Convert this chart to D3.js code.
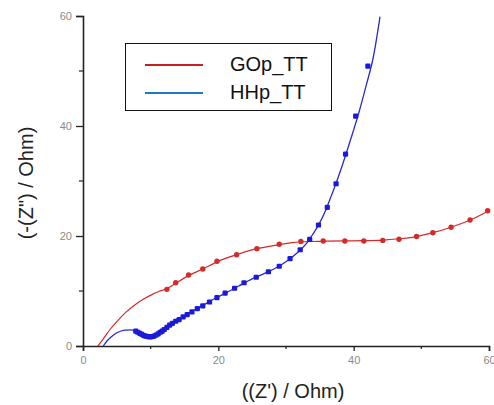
<!DOCTYPE html>
<html>
<head>
<meta charset="utf-8">
<script src="https://cdn.jsdelivr.net/npm/d3@7"></script>
<style>
  html, body { margin: 0; padding: 0; background: #fff; }
  svg { display: block; }
</style>
</head>
<body>
<svg id="chart" width="494" height="405"></svg>
<script>
// Nyquist plot: real impedance vs. negative imaginary impedance
const seriesNames = ["GOp_TT", "HHp_TT"];
const seriesColors = ["#d42a2a", "#2a2ad0"];
const legendColors = ["#c81e1e", "#1e78c8"];

const xTicks = [0, 20, 40, 60];
const yTicks = [0, 20, 40, 60];
const xMinor = [10, 30, 50];
const yMinor = [10, 30, 50];

// GOp_TT fitted curve [Z', -Z'']
const gopFit = [
  [2.2, 0], [3.0, 1.3], [4.0, 3.0], [5.2, 4.7], [6.4, 6.2], [7.7, 7.5], [8.9, 8.5],
  [10.1, 9.3], [11.2, 9.9], [12.4, 10.4], [13.7, 11.4], [15.6, 12.8], [17.7, 14.0],
  [19.8, 15.3], [22.7, 16.6], [25.7, 17.7], [28.4, 18.3], [31.0, 18.8], [33.5, 19.0],
  [35.5, 19.05], [38.7, 19.1], [41.5, 19.15], [44.3, 19.25], [46.7, 19.5], [49.3, 19.9],
  [51.7, 20.6], [54.4, 21.6], [57.2, 22.9], [60.0, 24.6]
];
// GOp_TT measured points
const gopPts = [
  [12.4, 10.3], [13.7, 11.5], [15.6, 12.9], [17.7, 14.0], [19.8, 15.4], [22.7, 16.6],
  [25.7, 17.7], [29.0, 18.5], [32.2, 19.0], [35.5, 19.1], [38.7, 19.1], [41.5, 19.1],
  [44.3, 19.2], [46.7, 19.4], [49.3, 19.9], [51.7, 20.6], [54.4, 21.6], [57.2, 22.9],
  [59.8, 24.6]
];

// HHp_TT fitted curve
const hhpFit = [
  [3.0, 0], [3.6, 1.0], [4.2, 1.7], [5.0, 2.4], [6.2, 2.9], [7.0, 2.95], [7.7, 2.8],
  [8.3, 2.5], [8.9, 2.1], [9.5, 1.8], [10.1, 1.7], [10.8, 2.0], [11.6, 2.6], [12.4, 3.5],
  [13.3, 4.3], [14.6, 5.2], [16.0, 6.2], [17.6, 7.3], [19.4, 8.6], [21.2, 9.7],
  [23.0, 10.9], [25.0, 12.2], [27.0, 13.3], [28.8, 14.4], [30.4, 15.7], [31.8, 17.1],
  [33.0, 18.6], [34.0, 20.4], [34.9, 22.2], [35.8, 24.5], [36.6, 27.0], [37.4, 29.6],
  [38.2, 32.4], [39.0, 35.4], [39.9, 38.9], [40.9, 43.0], [41.9, 47.6], [42.9, 52.5],
  [43.9, 59.9]
];
// HHp_TT measured points
const hhpPts = [
  [7.8, 2.7], [8.1, 2.5], [8.4, 2.3], [8.7, 2.1], [9.0, 1.9], [9.3, 1.8], [9.6, 1.7],
  [9.9, 1.65], [10.2, 1.7], [10.5, 1.8], [10.8, 2.0], [11.1, 2.2], [11.4, 2.5],
  [11.7, 2.7], [12.0, 3.0], [12.4, 3.4], [12.8, 3.8], [13.2, 4.1], [13.7, 4.5],
  [14.2, 4.8], [14.8, 5.3], [15.4, 5.7], [16.1, 6.2], [16.9, 6.8], [17.7, 7.3],
  [18.7, 8.0], [19.8, 8.8], [21.0, 9.6], [22.4, 10.5], [23.8, 11.5], [25.6, 12.5],
  [27.4, 13.5], [29.0, 14.5], [30.6, 15.9], [32.1, 17.5], [33.5, 19.4], [34.8, 22.0],
  [36.1, 25.2], [37.4, 29.5], [38.8, 34.9], [40.3, 41.8], [42.1, 50.9]
];

const svg = d3.select("#chart");
const x = d3.scaleLinear().domain([0, 60]).range([83, 489]);
const y = d3.scaleLinear().domain([0, 60]).range([346, 16]);

svg.append("clipPath").attr("id", "plotclip")
  .append("rect").attr("x", 83).attr("y", 14).attr("width", 408).attr("height", 334);

const line = d3.line().x(d => x(d[0])).y(d => y(d[1])).curve(d3.curveMonotoneX);

const layer = svg.append("g").attr("clip-path", "url(#plotclip)");

// fitted curves
layer.append("path").datum(gopFit).attr("d", line)
  .attr("fill", "none").attr("stroke", seriesColors[0]).attr("stroke-width", 1.2);
layer.append("path").datum(hhpFit).attr("d", line)
  .attr("fill", "none").attr("stroke", seriesColors[1]).attr("stroke-width", 1.3);

// measured points
layer.selectAll("circle.gop").data(gopPts).join("circle").attr("class", "gop")
  .attr("cx", d => x(d[0])).attr("cy", d => y(d[1])).attr("r", 2.7)
  .attr("fill", seriesColors[0]);
layer.selectAll("rect.hhp").data(hhpPts).join("rect").attr("class", "hhp")
  .attr("x", d => x(d[0]) - 2.6).attr("y", d => y(d[1]) - 2.6)
  .attr("width", 5.2).attr("height", 5.2).attr("rx", 1.2)
  .attr("fill", "#1a1ad8");

// axes
const xAxis = d3.axisBottom(x).tickValues(xTicks).tickSize(5).tickFormat(d3.format("d"));
const yAxis = d3.axisLeft(y).tickValues(yTicks).tickSize(7).tickFormat(d3.format("d"));

const gx = svg.append("g").attr("transform", "translate(0,346)").call(xAxis);
const gy = svg.append("g").attr("transform", "translate(83,0)").call(yAxis);
[gx, gy].forEach(g => {
  g.select(".domain").attr("stroke", "#222").attr("stroke-width", 1.6);
  g.selectAll(".tick line").attr("stroke", "#222").attr("stroke-width", 1.3);
  g.selectAll(".tick text").attr("fill", "#8a8a8a")
    .attr("font-family", "Liberation Sans, Arial, sans-serif").attr("font-size", 11);
});
gx.selectAll(".tick text").attr("dy", "0.95em");
gy.selectAll(".tick text").attr("dx", "-1px");

// minor ticks
svg.append("g").selectAll("line").data(xMinor).join("line")
  .attr("x1", d => x(d)).attr("x2", d => x(d)).attr("y1", 346).attr("y2", 349)
  .attr("stroke", "#222").attr("stroke-width", 1.2);
svg.append("g").selectAll("line").data(yMinor).join("line")
  .attr("y1", d => y(d)).attr("y2", d => y(d)).attr("x1", 83).attr("x2", 79)
  .attr("stroke", "#222").attr("stroke-width", 1.2);

// axis titles
svg.append("text").attr("x", 293).attr("y", 398).attr("text-anchor", "middle")
  .attr("font-family", "Liberation Sans, Arial, sans-serif").attr("font-size", 20)
  .attr("fill", "#222").text("((Z') / Ohm)");
svg.append("text").attr("transform", "translate(33,183) rotate(-90)")
  .attr("text-anchor", "middle")
  .attr("font-family", "Liberation Sans, Arial, sans-serif").attr("font-size", 20)
  .attr("fill", "#222").text("(-(Z\") / Ohm)");

// legend
const legend = svg.append("g");
legend.append("rect").attr("x", 125.5).attr("y", 43.5).attr("width", 206).attr("height", 67)
  .attr("fill", "#fff").attr("stroke", "#111").attr("stroke-width", 1);
seriesNames.forEach((name, i) => {
  const ly = 65 + i * 28;
  legend.append("line").attr("x1", 145).attr("x2", 203).attr("y1", ly).attr("y2", ly)
    .attr("stroke", legendColors[i]).attr("stroke-width", 2.2);
  legend.append("text").attr("x", 230).attr("y", ly + 6)
    .attr("font-family", "Liberation Sans, Arial, sans-serif").attr("font-size", 20)
    .attr("fill", "#111").text(name);
});
</script>
</body>
</html>
